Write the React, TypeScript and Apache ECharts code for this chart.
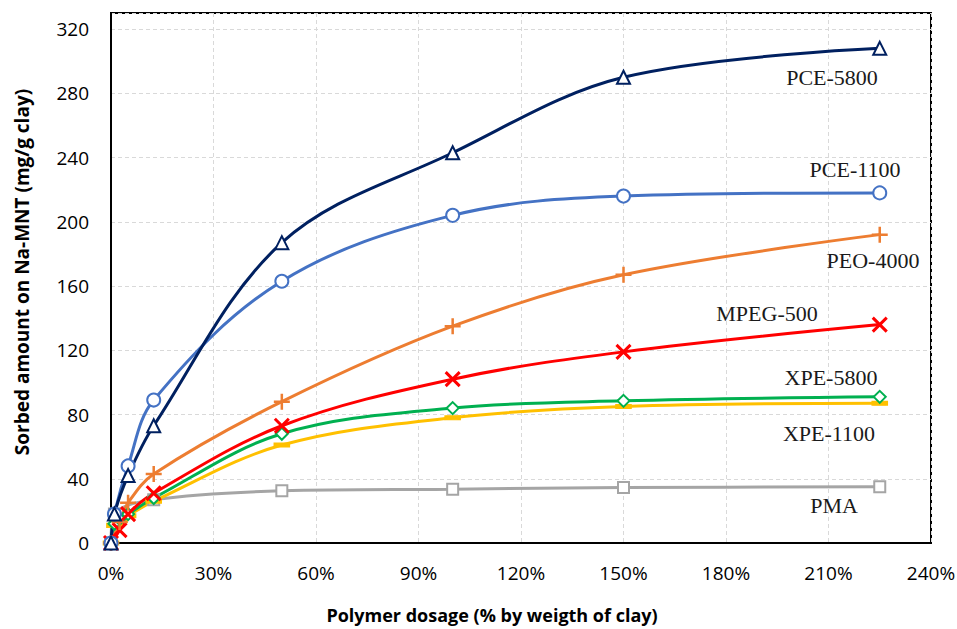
import React, { useEffect, useRef } from "react";
import * as echarts from "echarts";

// Polymer dosage (% by weight of clay)
const pce5800X = [0, 1, 5, 12.5, 50, 100, 150, 225];
const pce5800Y = [0, 18, 42, 73, 187, 243, 290, 308];
const pce1100X = [0, 1, 5, 12.5, 50, 100, 150, 225];
const pce1100Y = [0, 18, 48, 89, 163, 204, 216, 218];
const peo4000X = [0, 2.5, 5, 12.5, 50, 100, 150, 225];
const peo4000Y = [0, 13, 25, 43, 88, 135, 167, 192];
const mpeg500X = [0, 2.5, 5, 12.5, 50, 100, 150, 225];
const mpeg500Y = [0, 8, 18, 31, 73, 102, 119, 136];
const xpe5800X = [0, 1, 2.5, 5, 12.5, 50, 100, 150, 225];
const xpe5800Y = [0, 12, 15, 18, 28, 68, 84, 88.5, 91];
const xpe1100X = [0, 1, 2.5, 5, 12.5, 50, 100, 150, 225];
const xpe1100Y = [0, 11, 14, 17, 26, 61, 78, 85, 87];
const pmaX = [0, 1, 12.5, 50, 100, 150, 225];
const pmaY = [0, 18, 27, 32.5, 33.5, 34.5, 35];

const xTicks = { min: 0, max: 240, interval: 30 };
const yTicks = { min: 0, max: 330, interval: 40 };

const seriesNames = ["PMA", "XPE-1100", "XPE-5800", "MPEG-500", "PEO-4000", "PCE-1100", "PCE-5800"];

const pair = (xs: number[], ys: number[]) => xs.map((x, i) => [x, ys[i]]);

const PLUS = "path://M5,0L5,10M0,5L10,5";
const CROSS = "path://M0,0L10,10M10,0L0,10";

export default function App() {
  const ref = useRef<HTMLDivElement>(null);
  useEffect(() => {
    if (!ref.current) return;
    const chart = echarts.init(ref.current, null, { renderer: "svg" });
    const base = (name: string, data: number[][], color: string, symbol: string, symbolSize: any, width = 3, extraItem: any = {}) => ({
      name,
      type: "line",
      data,
      smooth: 0.35,
      symbol,
      symbolSize,
      showAllSymbol: true,
      lineStyle: { color, width },
      itemStyle: { color, borderColor: color, borderWidth: 2, ...extraItem },
      z: 3,
    });
    const labelFont = { fontFamily: "Liberation Serif", fontSize: 22, fill: "#1a1a1a" };
    const labels: [string, number, number][] = [
      ["PCE-5800", 832, 77],
      ["PCE-1100", 855, 169],
      ["PEO-4000", 873, 260],
      ["MPEG-500", 767, 313],
      ["XPE-5800", 831, 377],
      ["XPE-1100", 829, 433],
      ["PMA", 834, 505],
    ];
    chart.setOption({
      animation: false,
      backgroundColor: "#fff",
      grid: {
        left: 111,
        right: 26,
        top: 13,
        bottom: 86,
        show: true,
        borderColor: "#000",
        borderWidth: 2,
        containLabel: false,
        outerBoundsMode: "none",
      },
      xAxis: {
        type: "value",
        min: xTicks.min,
        max: xTicks.max,
        interval: xTicks.interval,
        name: "Polymer dosage (% by weigth of clay)",
        nameLocation: "middle",
        nameGap: 63,
        nameTextStyle: { fontFamily: "Open Sans", fontWeight: "bold", fontSize: 18, color: "#000", padding: [0, 58, 0, 0] },
        axisLine: { show: true, lineStyle: { color: "#000", width: 2 } },
        axisTick: { show: false },
        axisLabel: { formatter: (v: number) => v + "%", fontFamily: "Open Sans", fontSize: 19, color: "#000", margin: 20 },
        splitLine: { show: true, lineStyle: { color: "#d9d9d9", type: [4, 3], width: 1 } },
      },
      yAxis: {
        type: "value",
        min: yTicks.min,
        max: yTicks.max,
        interval: yTicks.interval,
        name: "Sorbed amount on Na-MNT (mg/g clay)",
        nameLocation: "middle",
        nameGap: 80,
        nameTextStyle: { fontFamily: "Open Sans", fontWeight: "bold", fontSize: 19, color: "#000", padding: [0, 0, 0, 12] },
        axisLine: { show: true, lineStyle: { color: "#000", width: 2 } },
        axisTick: { show: false },
        axisLabel: {
          formatter: (v: number) => (v % 40 === 0 ? String(v) : ""),
          fontFamily: "Open Sans",
          fontSize: 19,
          color: "#000",
          margin: 22,
        },
        splitLine: { show: true, lineStyle: { color: "#d9d9d9", type: [4, 3], width: 1 } },
      },
      graphic: labels.map(([t, x, y]) => ({
        type: "text",
        x,
        y,
        z: 10,
        style: { text: t, ...labelFont, textAlign: "center", textVerticalAlign: "middle" },
      })),
      series: [
        base(seriesNames[0], pair(pmaX, pmaY), "#A5A5A5", "emptyRect", 11),
        base(seriesNames[1], pair(xpe1100X, xpe1100Y), "#FFC000", "rect", [13, 4]),
        base(seriesNames[2], pair(xpe5800X, xpe5800Y), "#00B050", "emptyDiamond", 12),
        base(seriesNames[3], pair(mpeg500X, mpeg500Y), "#FF0000", CROSS, 14, 3, { color: "none", borderWidth: 3 }),
        base(seriesNames[4], pair(peo4000X, peo4000Y), "#ED7D31", PLUS, 16, 3, { color: "none", borderWidth: 2.5 }),
        base(seriesNames[5], pair(pce1100X, pce1100Y), "#4472C4", "emptyCircle", 13),
        base(seriesNames[6], pair(pce5800X, pce5800Y), "#002060", "emptyTriangle", 13, 3),
      ],
    });
    return () => chart.dispose();
  }, []);
  return <div ref={ref} style={{ position: "absolute", left: 0, top: 0, width: 957, height: 629 }} />;
}
